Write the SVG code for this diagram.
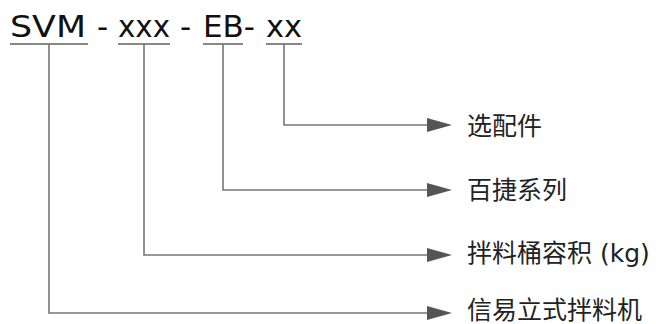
<svg xmlns="http://www.w3.org/2000/svg" width="656" height="324" viewBox="0 0 656 324">
<defs>
<style>
.code{font-family:"DejaVu Sans",sans-serif;font-size:31px;fill:#111}
.lbl{font-family:"DejaVu Sans","Noto Sans CJK SC",sans-serif;font-size:25px;fill:#222}
.ul{stroke:#888;stroke-width:2.2;fill:none}
.ln{stroke:#777;stroke-width:1.6;fill:none}
.ah{fill:#555}
</style>
</defs>
<rect width="656" height="324" fill="#fff"/>
<g id="code">
<text class="code" x="10" y="37" textLength="76" lengthAdjust="spacingAndGlyphs">SVM</text>
<text class="code" x="97" y="37">-</text>
<text class="code" x="118" y="37" textLength="52" lengthAdjust="spacingAndGlyphs">xxx</text>
<text class="code" x="180" y="37">-</text>
<text class="code" x="203" y="37" textLength="52" lengthAdjust="spacingAndGlyphs">EB-</text>
<text class="code" x="266" y="37" textLength="36" lengthAdjust="spacingAndGlyphs">xx</text>
<line class="ul" x1="10" y1="44" x2="88" y2="44"/>
<line class="ul" x1="118" y1="44" x2="170" y2="44"/>
<line class="ul" x1="203" y1="44" x2="243" y2="44"/>
<line class="ul" x1="266" y1="44" x2="302" y2="44"/>
</g>
<g id="connectors">
<polyline class="ln" points="284,44 284,125 428,125"/>
<polygon class="ah" points="427,118 452,125 427,132"/>
<polyline class="ln" points="223,44 223,190 428,190"/>
<polygon class="ah" points="427,183 452,190 427,197"/>
<polyline class="ln" points="144,44 144,255 428,255"/>
<polygon class="ah" points="427,248 452,255 427,262"/>
<polyline class="ln" points="49,44 49,313 428,313"/>
<polygon class="ah" points="427,306 452,313 427,320"/>
</g>
<g id="label1"><text class="lbl" x="467" y="135">选配件</text></g>
<g id="label2"><text class="lbl" x="467" y="199">百捷系列</text></g>
<g id="label3"><text class="lbl" x="467" y="262">拌料桶容积 (kg)</text></g>
<g id="label4"><text class="lbl" x="467" y="319">信易立式拌料机</text></g>
</svg>
